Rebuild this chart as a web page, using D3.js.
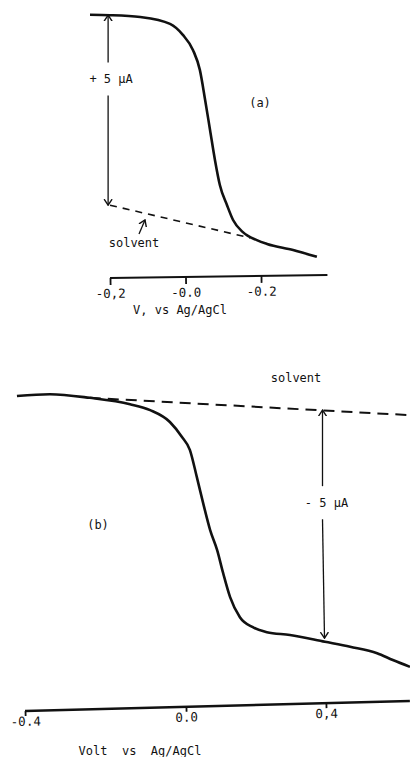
<!DOCTYPE html>
<html>
<head>
<meta charset="utf-8">
<script src="https://cdn.jsdelivr.net/npm/d3@7"></script>
<style>
  body { margin: 0; background: #fff; }
  svg { display: block; }
  text { font-family: 'DejaVu Sans Mono', 'Liberation Mono', monospace; font-size: 12px; fill: #111; }
</style>
</head>
<body>
<svg id="chart" width="410" height="757"></svg>
<script>
// panel (a) : volts vs current (uA)
var voltsA = [-0.253, -0.2, -0.12, -0.041, -0.007, 0.02, 0.038, 0.052, 0.065, 0.078, 0.091, 0.11, 0.126, 0.152, 0.189, 0.216, 0.285, 0.348];
var currentA = [6.9, 6.89, 6.84, 6.66, 6.37, 5.97, 5.45, 4.66, 3.87, 3.08, 2.42, 1.89, 1.5, 1.18, 0.97, 0.87, 0.71, 0.53];
var solventVoltsA = [-0.2, 0.171];
var solventCurrentA = [1.89, 1.03];
var ticksA = [-0.2, 0, 0.2];
var tickLabelsA = ['-0,2', '-0.0', '-0.2'];

// panel (b)
var voltsB = [-0.42, -0.338, -0.239, -0.139, -0.089, -0.04, -0.01, 0.011, 0.031, 0.049, 0.069, 0.089, 0.106, 0.126, 0.154, 0.191, 0.231, 0.297, 0.397, 0.469, 0.546, 0.591, 0.64];
var currentB = [6.82, 6.86, 6.78, 6.64, 6.51, 6.25, 5.92, 5.64, 5.04, 4.47, 3.88, 3.44, 2.94, 2.41, 1.97, 1.75, 1.64, 1.58, 1.43, 1.32, 1.18, 1.03, 0.88];
var solventVoltsB = [-0.239, 0.64];
var solventCurrentB = [6.78, 6.4];
var ticksB = [-0.4, 0, 0.4];
var tickLabelsB = ['-0.4', '0.0', '0,4'];

var svg = d3.select('#chart');

var defs = svg.append('defs');
defs.append('marker')
  .attr('id', 'head')
  .attr('viewBox', '-6 -5 7 10')
  .attr('refX', 0).attr('refY', 0)
  .attr('markerWidth', 7).attr('markerHeight', 10)
  .attr('markerUnits', 'userSpaceOnUse')
  .attr('orient', 'auto')
  .append('path')
  .attr('d', 'M-6,-4 L0,0 L-6,4')
  .style('fill', 'none')
  .style('stroke', '#111')
  .style('stroke-width', 1.4);

function zip(xs, ys) {
  return xs.map(function (x, i) { return [x, ys[i]]; });
}

function drawPanel(opts) {
  var g = svg.append('g');
  var x = opts.x, y = opts.y;

  var line = d3.line()
    .x(function (d) { return x(d[0]); })
    .y(function (d) { return y(d[1]); })
    .curve(d3.curveMonotoneX);

  // solvent baseline
  g.append('path')
    .datum(zip(opts.solventVolts, opts.solventCurrent))
    .attr('d', line)
    .style('fill', 'none')
    .style('stroke', '#111')
    .style('stroke-width', opts.dashWidth)
    .style('stroke-dasharray', opts.dash);

  // sample curve
  g.append('path')
    .datum(zip(opts.volts, opts.current))
    .attr('d', line)
    .style('fill', 'none')
    .style('stroke', '#111')
    .style('stroke-width', 2.6)
    .style('stroke-linejoin', 'round');

  // axis (slightly tilted like the original trace)
  var axis = d3.axisBottom(x)
    .tickValues(opts.ticks)
    .tickFormat(function (d, i) { return opts.tickLabels[i]; })
    .tickSize(opts.tickSize)
    .tickSizeOuter(0)
    .tickPadding(opts.tickPad);

  var ax = g.append('g')
    .attr('transform', 'translate(0,' + opts.axisY + ') rotate(' + opts.tilt + ',' + x(opts.axisDomain[0]) + ',0)')
    .call(axis);
  ax.select('.domain').remove();
  ax.append('line')
    .attr('x1', x(opts.axisDomain[0]))
    .attr('x2', x(opts.axisDomain[1]))
    .style('stroke', '#111')
    .style('stroke-width', opts.axisWidth);
  ax.selectAll('.tick line').style('stroke', '#111').style('stroke-width', 1.8);
  ax.selectAll('.tick text')
    .style('font-family', "'DejaVu Sans Mono', monospace")
    .style('font-size', '12.5px')
    .style('fill', '#111');

  g.append('text')
    .attr('x', opts.axisLabelX)
    .attr('y', opts.axisLabelY)
    .attr('text-anchor', 'middle')
    .attr('xml:space', 'preserve')
    .text(opts.axisLabel);

  // 5 uA arrow with gap for its label
  var ax0 = x(opts.arrowVolt);
  var yTop = y(opts.arrowTop), yBot = y(opts.arrowBottom), yLab = y(opts.arrowLabelAt);
  g.append('line')
    .attr('x1', ax0).attr('x2', ax0)
    .attr('y1', yLab - 17).attr('y2', yTop)
    .style('stroke', '#111').style('stroke-width', 1.3)
    .attr('marker-end', 'url(#head)');
  g.append('line')
    .attr('x1', ax0).attr('x2', ax0 + opts.arrowLean)
    .attr('y1', yLab + 16).attr('y2', yBot)
    .style('stroke', '#111').style('stroke-width', 1.3)
    .attr('marker-end', 'url(#head)');
  g.append('text')
    .attr('x', ax0 + opts.arrowLabelDx)
    .attr('y', yLab + 4)
    .attr('text-anchor', 'middle')
    .attr('xml:space', 'preserve')
    .text(opts.arrowLabel);

  g.append('text')
    .attr('x', opts.tagX).attr('y', opts.tagY)
    .attr('text-anchor', 'middle')
    .text(opts.tag);

  g.append('text')
    .attr('x', opts.solventX).attr('y', opts.solventY)
    .attr('text-anchor', 'middle')
    .text('solvent');

  return g;
}

// (a)
var xA = d3.scaleLinear().domain([-0.2, 0.2]).range([110, 261]);
var yA = d3.scaleLinear().domain([0, 7]).range([277, 11]);
var gA = drawPanel({
  x: xA, y: yA,
  volts: voltsA, current: currentA,
  solventVolts: solventVoltsA, solventCurrent: solventCurrentA,
  dash: '7,6', dashWidth: 1.6,
  ticks: ticksA, tickLabels: tickLabelsA, tickSize: 7, tickPad: 4,
  axisY: 278, tilt: -0.8, axisDomain: [-0.2, 0.376], axisWidth: 2,
  axisLabel: 'V, vs Ag/AgCl', axisLabelX: 180, axisLabelY: 314,
  arrowVolt: -0.205, arrowTop: 6.89, arrowBottom: 1.89, arrowLabelAt: 5.2,
  arrowLean: 0, arrowLabelDx: 3, arrowLabel: '+ 5 µA',
  tag: '(a)', tagX: 260, tagY: 107,
  solventX: 134, solventY: 247
});
// little pointer to the solvent trace
gA.append('line')
  .attr('x1', 139).attr('y1', 234)
  .attr('x2', 145).attr('y2', 220)
  .style('stroke', '#111').style('stroke-width', 1.3)
  .attr('marker-end', 'url(#head)');

// (b) - the original axis is not evenly spaced
var xB = d3.scaleLinear().domain([-0.4, 0, 0.4]).range([25, 186, 326]);
var yB = d3.scaleLinear().domain([0, 7]).range([707, 387.8]);
drawPanel({
  x: xB, y: yB,
  volts: voltsB, current: currentB,
  solventVolts: solventVoltsB, solventCurrent: solventCurrentB,
  dash: '11,7', dashWidth: 2,
  ticks: ticksB, tickLabels: tickLabelsB, tickSize: 5, tickPad: 1,
  axisY: 711, tilt: -1.5, axisDomain: [-0.4, 0.64], axisWidth: 2.5,
  axisLabel: 'Volt  vs  Ag/AgCl', axisLabelX: 140, axisLabelY: 755,
  arrowVolt: 0.39, arrowTop: 6.51, arrowBottom: 1.51, arrowLabelAt: 4.47,
  arrowLean: 2, arrowLabelDx: 4, arrowLabel: '- 5 µA',
  tag: '(b)', tagX: 98, tagY: 529,
  solventX: 296, solventY: 382
});
</script>
</body>
</html>
